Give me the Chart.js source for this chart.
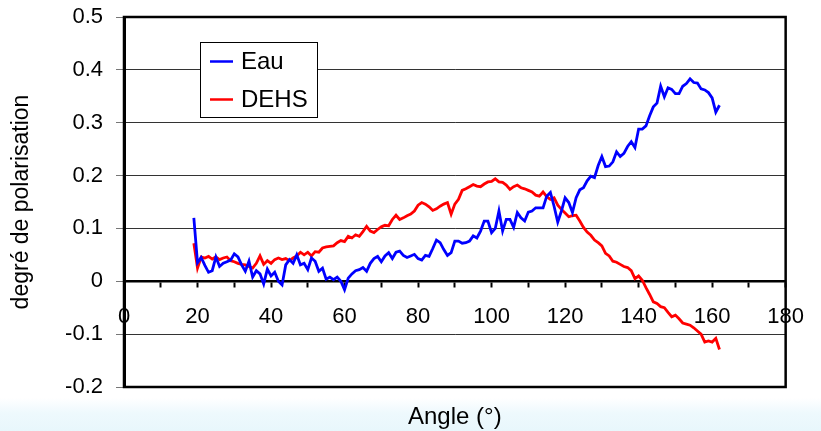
<!DOCTYPE html>
<html>
<head>
<meta charset="utf-8">
<script src="https://cdn.jsdelivr.net/npm/chart.js@4.4.1/dist/chart.umd.min.js"></script>
<style>
  html, body { margin: 0; padding: 0; }
  body {
    width: 821px; height: 431px; overflow: hidden;
    background: linear-gradient(to bottom, #ffffff 0px, #ffffff 398px, #eef9fd 413px, #e8f7fc 431px);
  }
  #wrap { position: relative; width: 821px; height: 431px; }
</style>
</head>
<body>
<div id="wrap"><canvas id="polar-chart-js"></canvas></div>
<script>
const angles = [
  19, 20, 21, 22, 23, 24, 25, 26, 27, 28, 29, 30, 31, 32, 33, 34, 35, 36, 37, 38,
  39, 40, 41, 42, 43, 44, 45, 46, 47, 48, 49, 50, 51, 52, 53, 54, 55, 56, 57, 58,
  59, 60, 61, 62, 63, 64, 65, 66, 67, 68, 69, 70, 71, 72, 73, 74, 75, 76, 77, 78,
  79, 80, 81, 82, 83, 84, 85, 86, 87, 88, 89, 90, 91, 92, 93, 94, 95, 96, 97, 98,
  99, 100, 101, 102, 103, 104, 105, 106, 107, 108, 109, 110, 111, 112, 113, 114, 115, 116, 117, 118,
  119, 120, 121, 122, 123, 124, 125, 126, 127, 128, 129, 130, 131, 132, 133, 134, 135, 136, 137, 138,
  139, 140, 141, 142, 143, 144, 145, 146, 147, 148, 149, 150, 151, 152, 153, 154, 155, 156, 157, 158,
  159, 160, 161, 162
];

const eauValues = [
  0.12, 0.035, 0.045, 0.03, 0.017, 0.02, 0.046, 0.028, 0.034, 0.037, 0.04, 0.052, 0.046, 0.031, 0.019, 0.038, 0.008, 0.02, 0.014, -0.005,
  0.023, 0.01, 0.017, 0.0, -0.007, 0.031, 0.041, 0.034, 0.05, 0.031, 0.034, 0.022, 0.044, 0.038, 0.019, 0.025, 0.004, 0.008, 0.003, 0.008,
  0.0, -0.016, 0.006, 0.014, 0.02, 0.022, 0.026, 0.019, 0.034, 0.043, 0.047, 0.037, 0.048, 0.054, 0.043, 0.055, 0.057, 0.049, 0.045, 0.048,
  0.051, 0.043, 0.04, 0.049, 0.047, 0.062, 0.078, 0.073, 0.06, 0.049, 0.054, 0.076, 0.076, 0.072, 0.073, 0.076, 0.086, 0.082, 0.095, 0.114,
  0.114, 0.092, 0.1, 0.133, 0.095, 0.117, 0.117, 0.102, 0.13, 0.12, 0.114, 0.131, 0.133, 0.139, 0.139, 0.139, 0.161, 0.168, 0.142, 0.112,
  0.133, 0.158, 0.149, 0.13, 0.158, 0.173, 0.177, 0.19, 0.199, 0.196, 0.219, 0.236, 0.217, 0.218, 0.226, 0.245, 0.236, 0.242, 0.255, 0.264,
  0.253, 0.288, 0.288, 0.294, 0.313, 0.33, 0.337, 0.369, 0.349, 0.366, 0.363, 0.355, 0.355, 0.369, 0.374, 0.383, 0.376, 0.375, 0.364, 0.362,
  0.357, 0.347, 0.32, 0.333
];

const dehsValues = [
  0.072, 0.025, 0.046, 0.044, 0.047, 0.042, 0.046, 0.041, 0.044, 0.046, 0.039, 0.037, 0.034, 0.032, 0.031, 0.028, 0.025, 0.034, 0.048, 0.032,
  0.039, 0.034, 0.041, 0.044, 0.041, 0.043, 0.039, 0.044, 0.048, 0.055, 0.05, 0.055, 0.048, 0.056, 0.055, 0.063, 0.065, 0.066, 0.067, 0.073,
  0.077, 0.075, 0.085, 0.082, 0.088, 0.085, 0.094, 0.104, 0.095, 0.092, 0.098, 0.103, 0.106, 0.105, 0.117, 0.125, 0.117, 0.12, 0.124, 0.127,
  0.133, 0.144, 0.149, 0.146, 0.141, 0.134, 0.137, 0.142, 0.146, 0.149, 0.127, 0.146, 0.155, 0.172, 0.175, 0.179, 0.183, 0.18, 0.179, 0.184,
  0.188, 0.189, 0.194, 0.188, 0.187, 0.182, 0.174, 0.179, 0.182, 0.177, 0.175, 0.172, 0.169, 0.163, 0.161, 0.169, 0.16, 0.155, 0.158, 0.144,
  0.136, 0.129, 0.122, 0.124, 0.125, 0.114, 0.102, 0.093, 0.087, 0.078, 0.073, 0.067, 0.053, 0.048, 0.038, 0.036, 0.032, 0.028, 0.026, 0.02,
  0.005, 0.01, 0.002, -0.012, -0.025, -0.039, -0.042, -0.048, -0.05, -0.059, -0.067, -0.064, -0.071, -0.079, -0.081, -0.083, -0.088, -0.094, -0.1, -0.115,
  -0.113, -0.115, -0.108, -0.129
];

const seriesLabels = ['Eau', 'DEHS'];
const xTitle = 'Angle (°)';
const yTitle = 'degré de polarisation';
const xMin = 0, xMax = 180, xStep = 10, xLabelStep = 20;
const yMin = -0.2, yMax = 0.5, yStep = 0.1;

const fontFamily = '"Liberation Sans", Arial, Helvetica, sans-serif';

function toPoints(values) {
  return values.map((v, i) => ({ x: angles[i], y: v }));
}

// cadre noir autour de la zone de tracé
const frame = {
  id: 'frame',
  beforeDatasetsDraw(chart) {
    const { ctx, chartArea } = chart;
    ctx.save();
    ctx.strokeStyle = '#000';
    ctx.lineWidth = 2.5;
    ctx.strokeRect(chartArea.left, chartArea.top, chartArea.right - chartArea.left, chartArea.bottom - chartArea.top);
    ctx.restore();
  }
};

// légende encadrée dans le graphe
const legendBox = {
  id: 'legendBox',
  afterDatasetsDraw(chart) {
    const ctx = chart.ctx;
    ctx.save();
    ctx.fillStyle = '#fff';
    ctx.fillRect(200, 42, 117, 75);
    ctx.strokeStyle = '#000';
    ctx.lineWidth = 1;
    ctx.strokeRect(200.5, 42.5, 117, 75);
    ctx.font = '24px ' + fontFamily;
    ctx.textBaseline = 'middle';
    chart.data.datasets.forEach((ds, i) => {
      const y = 61.5 + i * 38;
      ctx.strokeStyle = ds.borderColor;
      ctx.lineWidth = 2.5;
      ctx.beginPath();
      ctx.moveTo(210, y);
      ctx.lineTo(233, y);
      ctx.stroke();
      ctx.fillStyle = '#000';
      ctx.fillText(ds.label, 241, y + 1);
    });
    ctx.restore();
  }
};

// titre de l'axe x, sous le graphe
const xAxisTitle = {
  id: 'xAxisTitle',
  afterDraw(chart) {
    const { ctx, chartArea } = chart;
    ctx.save();
    ctx.fillStyle = '#000';
    ctx.font = '24px ' + fontFamily;
    ctx.textAlign = 'center';
    ctx.textBaseline = 'alphabetic';
    ctx.fillText(xTitle, (chartArea.left + chartArea.right) / 2, 424);
    ctx.restore();
  }
};

const ctx = document.getElementById('polar-chart-js').getContext('2d');

new Chart(ctx, {
  type: 'line',
  data: {
    datasets: [{
      label: seriesLabels[0],
      data: toPoints(eauValues),
      borderColor: '#0000ff',
      borderWidth: 2.8,
      pointRadius: 0,
      tension: 0,
      fill: false
    }, {
      label: seriesLabels[1],
      data: toPoints(dehsValues),
      borderColor: '#ff0000',
      borderWidth: 2.8,
      pointRadius: 0,
      tension: 0,
      fill: false
    }]
  },
  options: {
    responsive: true,
    maintainAspectRatio: false,
    animation: false,
    layout: {
      padding: { left: 0, top: 17, right: 25, bottom: 44 }
    },
    plugins: {
      legend: { display: false },
      tooltip: { enabled: false },
      title: { display: false }
    },
    scales: {
      x: {
        type: 'linear',
        position: { y: 0 },
        min: xMin,
        max: xMax,
        afterFit: (scale) => { scale.height = 0; },
        grid: {
          drawOnChartArea: false,
          drawTicks: true,
          tickLength: 5,
          tickWidth: 2,
          tickColor: '#000'
        },
        border: { display: true, color: '#000', width: 2.5 },
        ticks: {
          stepSize: xStep,
          autoSkip: false,
          maxRotation: 0,
          padding: 17,
          color: '#000',
          font: { family: fontFamily, size: 22 },
          callback: (v) => (v % xLabelStep === 0 ? String(v) : '')
        }
      },
      y: {
        min: yMin,
        max: yMax,
        afterFit: (scale) => {
          scale.width = 124;
          scale.paddingTop = 0;
          scale.paddingBottom = 0;
        },
        grid: {
          color: '#333',
          lineWidth: 1,
          tickLength: 8,
          tickColor: '#777'
        },
        border: { display: true, color: '#000', width: 3 },
        ticks: {
          stepSize: yStep,
          padding: 13,
          color: '#000',
          font: { family: fontFamily, size: 22 },
          callback: (v) => String(parseFloat(v.toFixed(1)))
        },
        title: {
          display: true,
          text: yTitle,
          color: '#000',
          font: { family: fontFamily, size: 23 },
          padding: { top: 8, bottom: 0 }
        }
      }
    }
  },
  plugins: [frame, legendBox, xAxisTitle]
});
</script>
</body>
</html>
